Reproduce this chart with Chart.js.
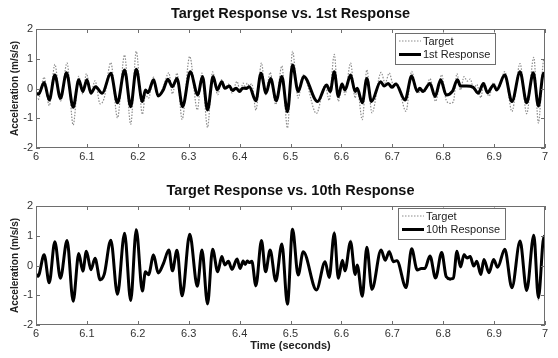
<!DOCTYPE html>
<html>
<head>
<meta charset="utf-8">
<script src="https://cdn.jsdelivr.net/npm/chart.js@4.4.1/dist/chart.umd.min.js"></script>
<style>
  body { margin: 0; background: #fff; }
  #wrap { position: relative; width: 558px; height: 358px; }
  canvas { position: absolute; left: 0; }
  #top { top: 0; }
  #bottom { top: 178px; }
</style>
</head>
<body>
<div id="wrap">
  <canvas id="top" width="558" height="178"></canvas>
  <canvas id="bottom" width="558" height="180"></canvas>
</div>
<script>
// target signal (peaks and troughs)
const timeTarget = [6.000, 6.004, 6.016, 6.026, 6.037, 6.048, 6.061, 6.073, 6.084, 6.092,
  6.099, 6.108, 6.116, 6.126, 6.134, 6.147, 6.160, 6.174, 6.186, 6.197,
  6.209, 6.215, 6.221, 6.231, 6.240, 6.250, 6.261, 6.268, 6.277, 6.287,
  6.302, 6.317, 6.326, 6.337, 6.347, 6.357, 6.365, 6.371, 6.378, 6.385,
  6.395, 6.401, 6.407, 6.411, 6.415, 6.419, 6.424, 6.432, 6.443, 6.451,
  6.460, 6.471, 6.483, 6.494, 6.504, 6.515, 6.525, 6.551, 6.568, 6.576,
  6.586, 6.594, 6.602, 6.607, 6.618, 6.627, 6.631, 6.641, 6.650, 6.660,
  6.678, 6.686, 6.694, 6.702, 6.709, 6.727, 6.738, 6.749, 6.757, 6.764,
  6.774, 6.785, 6.797, 6.806, 6.814, 6.820, 6.827, 6.834, 6.841, 6.847,
  6.853, 6.860, 6.866, 6.874, 6.880, 6.890, 6.899, 6.907, 6.921, 6.935,
  6.951, 6.964, 6.978, 6.987, 6.998, 7.000];
const valTarget = [-0.32, -0.38, 0.38, -0.58, 0.81, -0.43, 0.86, -1.23, 0.41, -0.19,
  0.50, -0.14, 0.26, -0.52, -0.32, 0.87, -0.99, 1.13, -1.21, 1.25,
  -0.87, -0.21, -0.33, 0.38, -0.25, 0.05, 0.53, -0.18, 0.52, -1.04,
  1.08, -0.72, 0.52, -1.31, 0.56, -0.21, 0.30, 0.02, 0.15, -0.15,
  0.24, -0.10, 0.18, 0.03, 0.18, 0.10, 0.16, -0.73, 0.86, -0.21,
  0.54, -0.54, 0.76, -1.33, 1.25, -0.32, 0.46, -0.84, 0.13, -0.40,
  1.15, -0.43, 0.18, -0.21, 0.86, -0.32, 0.02, -1.05, 0.63, -0.82,
  0.54, 0.18, 0.52, 0.13, 0.18, -0.77, 0.58, -0.15, -0.10, -0.10,
  0.33, -0.43, 0.46, -0.40, -0.50, -0.45, 0.50, -0.05, 0.40, 0.25,
  0.32, -0.02, 0.14, -0.31, 0.20, -0.26, 0.20, -0.06, 0.57, -0.77,
  0.84, -0.85, 1.05, -1.16, 1.00, 0.95];

// 1st response
const timeResp1 = [6.000, 6.005, 6.016, 6.026, 6.037, 6.048, 6.060, 6.073, 6.084, 6.092,
  6.100, 6.108, 6.117, 6.130, 6.147, 6.160, 6.174, 6.186, 6.197, 6.209,
  6.215, 6.220, 6.231, 6.240, 6.250, 6.259, 6.268, 6.277, 6.288, 6.303,
  6.318, 6.327, 6.337, 6.348, 6.356, 6.365, 6.371, 6.380, 6.386, 6.393,
  6.400, 6.406, 6.413, 6.419, 6.432, 6.442, 6.452, 6.461, 6.472, 6.483,
  6.494, 6.504, 6.515, 6.526, 6.553, 6.571, 6.578, 6.586, 6.594, 6.601,
  6.607, 6.618, 6.627, 6.631, 6.641, 6.650, 6.659, 6.677, 6.684, 6.692,
  6.699, 6.707, 6.725, 6.738, 6.749, 6.754, 6.760, 6.774, 6.784, 6.795,
  6.806, 6.818, 6.828, 6.834, 6.846, 6.859, 6.869, 6.879, 6.887, 6.899,
  6.905, 6.921, 6.935, 6.951, 6.964, 6.977, 6.987, 6.997, 7.000];
const valResp1 = [-0.16, -0.19, 0.20, -0.39, 0.45, -0.33, 0.53, -0.63, 0.29, -0.10,
  0.29, -0.16, 0.06, -0.16, 0.51, -0.48, 0.62, -0.61, 0.65, -0.44,
  -0.05, -0.14, 0.29, -0.25, -0.05, 0.31, 0.06, 0.34, -0.61, 0.56,
  -0.22, 0.40, -0.72, 0.40, -0.05, 0.23, 0.01, 0.08, -0.07, 0.01,
  -0.10, 0.01, 0.00, 0.06, -0.41, 0.51, -0.16, 0.34, -0.41, 0.40,
  -0.78, 0.79, -0.10, 0.40, -0.44, 0.12, -0.10, 0.56, -0.27, 0.15,
  -0.05, 0.45, -0.10, 0.01, -0.48, 0.34, -0.44, 0.23, 0.08, 0.17,
  0.04, 0.15, -0.39, 0.42, -0.10, 0.01, -0.10, 0.17, -0.27, 0.29,
  -0.22, -0.10, 0.29, 0.08, 0.08, 0.04, -0.16, 0.17, -0.14, 0.12,
  -0.05, 0.45, -0.44, 0.56, -0.48, 0.53, -0.59, 0.51, 0.45];

// 10th response, sampled at the same times as the target
const valResp10 = [-0.30, -0.36, 0.36, -0.58, 0.80, -0.43, 0.84, -1.20, 0.40, -0.19,
  0.48, -0.14, 0.24, -0.48, -0.30, 0.85, -0.97, 1.08, -1.18, 1.20,
  -0.86, -0.21, -0.31, 0.35, -0.25, 0.05, 0.52, -0.18, 0.51, -1.02,
  1.05, -0.70, 0.52, -1.29, 0.55, -0.21, 0.30, 0.02, 0.14, -0.13,
  0.22, -0.10, 0.15, 0.03, 0.15, 0.10, 0.14, -0.68, 0.84, -0.21,
  0.52, -0.52, 0.72, -1.30, 1.22, -0.32, 0.46, -0.82, 0.13, -0.40,
  1.08, -0.43, 0.18, -0.18, 0.80, -0.30, 0.02, -1.03, 0.61, -0.80,
  0.52, 0.18, 0.46, 0.13, 0.16, -0.74, 0.56, -0.15, -0.10, -0.10,
  0.32, -0.42, 0.44, -0.38, -0.45, -0.43, 0.48, -0.05, 0.36, 0.25,
  0.30, -0.02, 0.14, -0.30, 0.20, -0.24, 0.20, -0.06, 0.55, -0.75,
  0.82, -0.84, 1.02, -1.08, 0.98, 0.93];

const xTicks = { min: 6, max: 7, step: 0.1 };
const yTicks = { min: -2, max: 2, step: 1 };

const FONT = '"Liberation Sans", Arial, sans-serif';

function toPoints(times, vals) {
  return times.map((t, i) => ({ x: t, y: vals[i] }));
}

// box, inward ticks, title and legend, drawn in the MATLAB way
const framePlugin = {
  id: 'frame',
  afterDatasetsDraw(chart, args, opts) {
    const { ctx, chartArea: a, scales: { x, y } } = chart;
    ctx.save();
    ctx.strokeStyle = '#6e6e6e';
    ctx.lineWidth = 1;
    ctx.strokeRect(a.left + 0.5, a.top + 0.5, a.width - 1, a.height - 1);
    ctx.beginPath();
    x.ticks.forEach(t => {
      const px = Math.round(x.getPixelForValue(t.value)) + 0.5;
      ctx.moveTo(px, a.top); ctx.lineTo(px, a.top + 4);
      ctx.moveTo(px, a.bottom); ctx.lineTo(px, a.bottom - 4);
    });
    y.ticks.forEach(t => {
      const py = Math.round(y.getPixelForValue(t.value)) + 0.5;
      ctx.moveTo(a.left, py); ctx.lineTo(a.left + 4, py);
      ctx.moveTo(a.right, py); ctx.lineTo(a.right - 4, py);
    });
    ctx.stroke();

    // title
    ctx.fillStyle = '#111';
    ctx.font = 'bold 14.5px ' + FONT;
    ctx.textAlign = 'center';
    ctx.textBaseline = 'middle';
    ctx.fillText(opts.title, (a.left + a.right) / 2, a.top - 15);

    // legend
    ctx.font = '11px ' + FONT;
    const sets = chart.data.datasets;
    const textW = Math.max(...sets.map(d => ctx.measureText(d.label).width));
    const bx = a.left + opts.legendX, by = a.top + opts.legendY;
    const bw = 28 + textW + 5, bh = 31;
    ctx.fillStyle = '#fff';
    ctx.fillRect(bx, by, bw, bh);
    ctx.strokeStyle = '#6e6e6e';
    ctx.strokeRect(Math.round(bx) + 0.5, Math.round(by) + 0.5, Math.round(bw), bh);
    sets.forEach((d, i) => {
      const ly = by + 8.5 + i * 13.5;
      ctx.beginPath();
      ctx.strokeStyle = d.borderColor;
      ctx.lineWidth = d.borderWidth;
      ctx.setLineDash(d.borderDash || []);
      ctx.moveTo(bx + 4, ly); ctx.lineTo(bx + 26, ly);
      ctx.stroke();
      ctx.setLineDash([]);
      ctx.fillStyle = '#222';
      ctx.textAlign = 'left';
      ctx.fillText(d.label, bx + 28, ly + 0.5);
    });
    ctx.restore();
  }
};

function makeChart(id, respLabel, respTimes, respVals, cfg) {
  const ctx = document.getElementById(id).getContext('2d');
  return new Chart(ctx, {
    type: 'line',
    data: {
      datasets: [{
        label: 'Target',
        data: toPoints(timeTarget, valTarget),
        borderColor: '#8c8c8c',
        borderWidth: 1.2,
        borderDash: [1.5, 1.5],
        pointRadius: 0,
        cubicInterpolationMode: 'monotone',
        order: 2
      }, {
        label: respLabel,
        data: toPoints(respTimes, respVals),
        borderColor: '#000',
        borderWidth: 3,
        pointRadius: 0,
        cubicInterpolationMode: 'monotone',
        order: 1
      }]
    },
    options: {
      responsive: false,
      animation: false,
      events: [],
      layout: { padding: { top: cfg.padTop, right: 13, left: 0, bottom: 0 } },
      plugins: {
        legend: { display: false },
        tooltip: { enabled: false },
        frame: { title: cfg.title, legendX: cfg.legendX, legendY: cfg.legendY }
      },
      scales: {
        x: {
          type: 'linear',
          min: xTicks.min,
          max: xTicks.max,
          grid: { display: false, drawTicks: false },
          border: { display: false },
          ticks: {
            stepSize: xTicks.step,
            padding: 2,
            maxRotation: 0,
            autoSkip: false,
            color: '#333',
            font: { family: FONT, size: 11 },
            callback: v => String(Math.round(v * 10) / 10)
          },
          title: {
            display: cfg.xTitle,
            text: 'Time (seconds)',
            color: '#222',
            font: { family: FONT, size: 11, weight: 'bold' },
            padding: { top: 0, bottom: 5 }
          },
          afterFit: s => { s.height = cfg.xHeight; }
        },
        y: {
          min: yTicks.min,
          max: yTicks.max,
          grid: { display: false, drawTicks: false },
          border: { display: false },
          ticks: {
            stepSize: yTicks.step,
            padding: 3,
            color: '#333',
            font: { family: FONT, size: 11 }
          },
          title: {
            display: true,
            text: 'Acceleration (m/s/s)',
            color: '#222',
            font: { family: FONT, size: 10, weight: 'bold' },
            padding: { top: 9, bottom: 0 }
          },
          afterFit: s => { s.width = 36; }
        }
      }
    },
    plugins: [framePlugin]
  });
}

makeChart('top', '1st Response', timeResp1, valResp1, {
  title: 'Target Response vs. 1st Response',
  padTop: 29, xHeight: 30, xTitle: false, legendX: 359, legendY: 3.5
});
makeChart('bottom', '10th Response', timeTarget, valResp10, {
  title: 'Target Response vs. 10th Response',
  padTop: 28, xHeight: 33, xTitle: true, legendX: 362, legendY: 1.5
});
</script>
</body>
</html>
